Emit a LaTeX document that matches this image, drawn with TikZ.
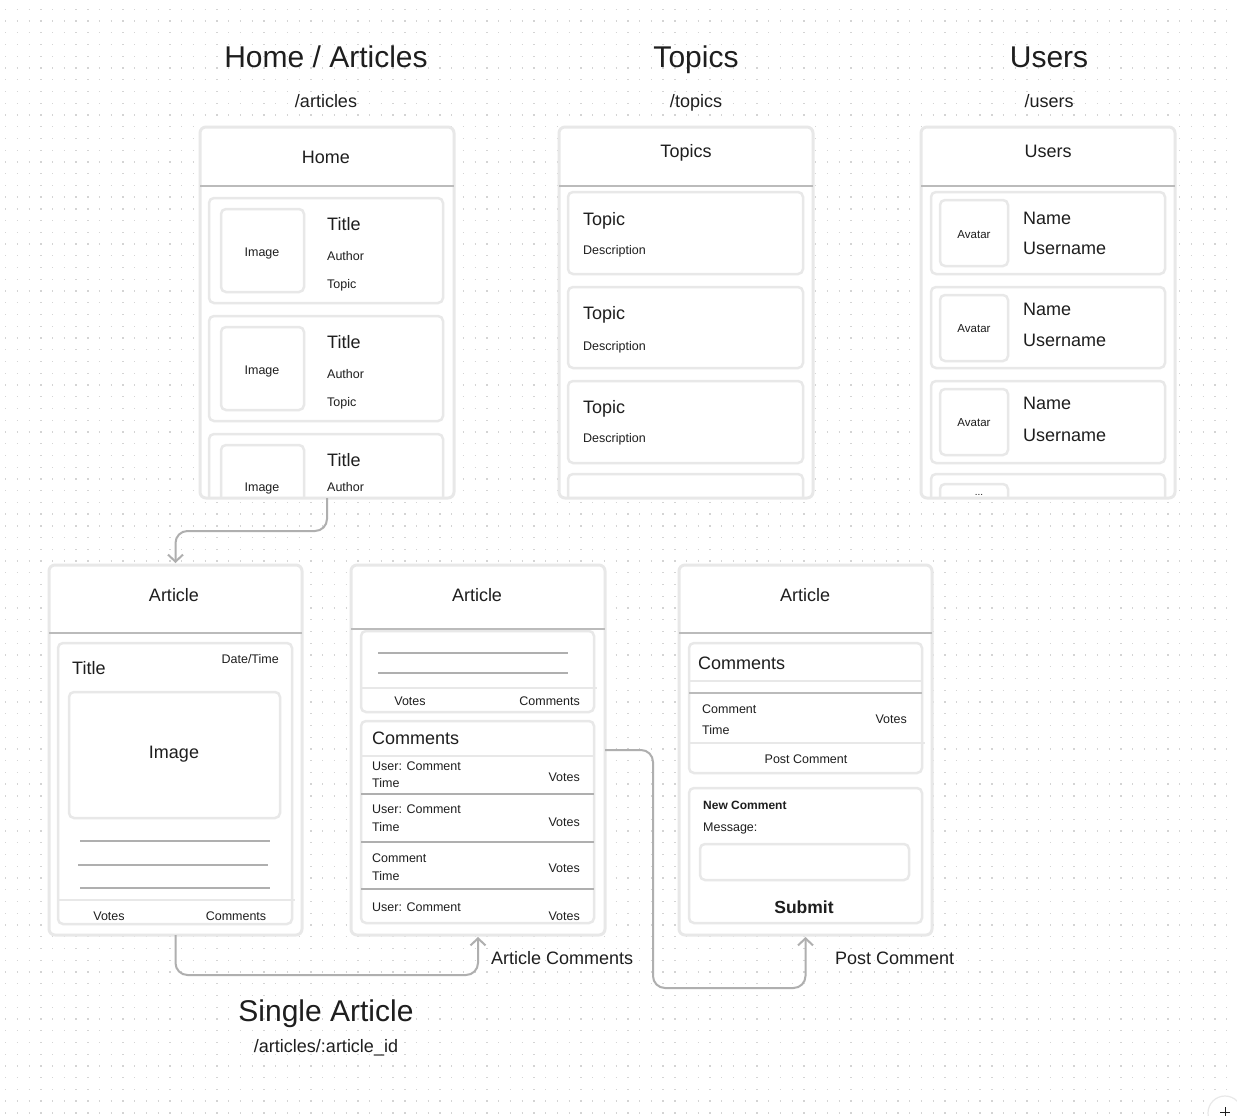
\documentclass[tikz,border=0pt]{standalone}
\usepackage{fontspec}
\setmainfont{Liberation Sans}
\usetikzlibrary{arrows.meta}

\definecolor{ink}{HTML}{1E1E1E}
\definecolor{boxgray}{HTML}{E8E8E8}
\definecolor{divider}{HTML}{BBBBBB}
\definecolor{stroke}{HTML}{AFAFAF}
\definecolor{dotc}{HTML}{D4D4D4}

% a white panel node (name #2, top-left corner #3,#4, size #5 x #6)
% whose outline is stroked afterwards with the style #1line
\newcommand\panel[6]{%
  \node[#1, minimum width=#5pt, minimum height=#6pt] (#2) at (#3,#4) {};
  \draw[#1line] (#2.north west) rectangle (#2.south east);}

\begin{document}
\begin{tikzpicture}[x=1pt,y=-1pt,
  every node/.style={text=ink},
  big/.style={font=\fontsize{30}{35}\selectfont, yshift=-10.8pt},
  mid/.style={font=\fontsize{18}{22}\selectfont, yshift=-6.5pt},
  sml/.style={font=\fontsize{12.5}{15}\selectfont, yshift=-4.5pt},
  tny/.style={font=\fontsize{11.5}{14}\selectfont, yshift=-4.1pt},
  bsml/.style={font=\fontsize{12}{15}\selectfont\bfseries, yshift=-4.3pt},
  bmid/.style={font=\fontsize{17.5}{21}\selectfont\bfseries, yshift=-6.3pt},
  lbl/.style={inner sep=0pt, anchor=base},
  lft/.style={inner sep=0pt, anchor=base west},
  rgt/.style={inner sep=0pt, anchor=base east},
  frame/.style={fill=white, rounded corners=6pt, anchor=north west,
    inner sep=0pt, outer sep=0pt},
  frameline/.style={draw=boxgray, line width=3pt, rounded corners=6pt},
  card/.style={fill=white, rounded corners=5pt, anchor=north west,
    inner sep=0pt, outer sep=0pt},
  cardline/.style={draw=boxgray, line width=2.5pt, rounded corners=5pt},
  headrule/.style={draw=divider, line width=2pt},
  textrule/.style={draw=stroke, line width=2pt},
  softrule/.style={draw=boxgray, line width=2pt},
  link/.style={draw=stroke, line width=2pt, rounded corners=12pt,
    -{Straight Barb[length=7pt,width=15pt]}},
  dotgrid/.style={draw=dotc, line width=1.3pt, dash pattern=on 1.3pt off 10.44pt},
]
\useasboundingbox (0,0) rectangle (1237,1116);
\clip (0,0) rectangle (1237,1116);
\fill[white] (0,0) rectangle (1237,1116);

% dotted canvas
\foreach \j in {0,...,94}
  \draw[dotgrid] (5.05,{9.3+11.74*\j}) -- (1237,{9.3+11.74*\j});

% ---------- section titles ----------
\node[big, lbl] (hHome) at (326,57) {Home / Articles};
\node[mid, lbl] (pHome) at (326,101) {/articles};
\node[big, lbl] (hTopics) at (696,57) {Topics};
\node[mid, lbl] (pTopics) at (696,101) {/topics};
\node[big, lbl] (hUsers) at (1049,57) {Users};
\node[mid, lbl] (pUsers) at (1049,101) {/users};

% ---------- Home / Articles ----------
\node[frame, minimum width=254pt, minimum height=371pt] (home) at (200,127) {};
\begin{scope}
  \clip (201.5,188) rectangle (452.5,496.5);
  \panel{card}{hc1}{209}{198}{234}{105}
  \panel{card}{hi1}{221}{209}{83}{83}
  \node[sml, lbl] (hi1t) at (262,252) {Image};
  \node[mid, lft] (hc1a) at (327,224) {Title};
  \node[sml, lft] (hc1b) at (327,256) {Author};
  \node[sml, lft] (hc1c) at (327,284) {Topic};

  \panel{card}{hc2}{209}{316}{234}{105}
  \panel{card}{hi2}{221}{327}{83}{83}
  \node[sml, lbl] (hi2t) at (262,370) {Image};
  \node[mid, lft] (hc2a) at (327,342) {Title};
  \node[sml, lft] (hc2b) at (327,374) {Author};
  \node[sml, lft] (hc2c) at (327,402) {Topic};

  \panel{card}{hc3}{209}{434}{234}{105}
  \panel{card}{hi3}{221}{445}{83}{83}
  \node[sml, lbl] (hi3t) at (262,487) {Image};
  \node[mid, lft] (hc3a) at (327,460) {Title};
  \node[sml, lft] (hc3b) at (327,487) {Author};
\end{scope}
\draw[frameline] (home.north west) rectangle (home.south east);
\draw[headrule] (200,186) -- (454,186);
\node[mid, lbl] (homeT) at (326,157) {Home};

% ---------- Topics ----------
\node[frame, minimum width=254pt, minimum height=371pt] (topics) at (559,127) {};
\begin{scope}
  \clip (560.5,188) rectangle (811.5,496.5);
  \panel{card}{tc1}{568}{192}{235}{82}
  \node[mid, lft] (tc1a) at (583,219) {Topic};
  \node[sml, lft] (tc1b) at (583,250) {Description};
  \panel{card}{tc2}{568}{287}{235}{81}
  \node[mid, lft] (tc2a) at (583,313) {Topic};
  \node[sml, lft] (tc2b) at (583,346) {Description};
  \panel{card}{tc3}{568}{381}{235}{82}
  \node[mid, lft] (tc3a) at (583,407) {Topic};
  \node[sml, lft] (tc3b) at (583,438) {Description};
  \panel{card}{tc4}{568}{474}{235}{80}
\end{scope}
\draw[frameline] (topics.north west) rectangle (topics.south east);
\draw[headrule] (559,186) -- (813,186);
\node[mid, lbl] (topicsT) at (686,151) {Topics};

% ---------- Users ----------
\node[frame, minimum width=254pt, minimum height=371pt] (users) at (921,127) {};
\begin{scope}
  \clip (922.5,188) rectangle (1173.5,496.5);
  \panel{card}{uc1}{931}{192}{234}{82}
  \panel{card}{ua1}{940}{200}{68}{66}
  \node[tny, lbl] (ua1t) at (974,234) {Avatar};
  \node[mid, lft] (uc1a) at (1023,218) {Name};
  \node[mid, lft] (uc1b) at (1023,248) {Username};

  \panel{card}{uc2}{931}{287}{234}{81}
  \panel{card}{ua2}{940}{295}{68}{66}
  \node[tny, lbl] (ua2t) at (974,328) {Avatar};
  \node[mid, lft] (uc2a) at (1023,309) {Name};
  \node[mid, lft] (uc2b) at (1023,340) {Username};

  \panel{card}{uc3}{931}{381}{234}{82}
  \panel{card}{ua3}{940}{389}{68}{66}
  \node[tny, lbl] (ua3t) at (974,422) {Avatar};
  \node[mid, lft] (uc3a) at (1023,403) {Name};
  \node[mid, lft] (uc3b) at (1023,435) {Username};

  \panel{card}{uc4}{931}{474}{234}{80}
  \panel{card}{ua4}{940}{484}{68}{66}
  \node[font=\fontsize{10}{12}\selectfont, lbl] (ua4t) at (979,495.5) {...};
\end{scope}
\draw[frameline] (users.north west) rectangle (users.south east);
\draw[headrule] (921,186) -- (1175,186);
\node[mid, lbl] (usersT) at (1048,151) {Users};

% ---------- Single article: content ----------
\panel{frame}{artA}{49}{565}{253}{370}
\draw[headrule] (49,633) -- (302,633);
\node[mid, lbl] (artAT) at (174,595) {Article};
\panel{card}{ac}{58}{643}{234}{281}
\node[mid, lft] (acT) at (72,668) {Title};
\node[sml, rgt] (acD) at (279,659) {Date/Time};
\panel{card}{aimg}{69}{692}{211}{126}
\node[mid, lbl] (aimgT) at (174,752) {Image};
\draw[textrule] (80,841) -- (270,841);
\draw[textrule] (78,865) -- (268,865);
\draw[textrule] (80,888) -- (270,888);
\draw[softrule] (58,900) -- (295,900);
\node[sml, lbl] (acV) at (109,916) {Votes};
\node[sml, lbl] (acC) at (236,916) {Comments};

% ---------- Single article: comments ----------
\panel{frame}{artB}{351}{565}{254}{370}
\panel{card}{bc1}{361}{631}{233}{81}
\draw[headrule] (351,629) -- (605,629);
\node[mid, lbl] (artBT) at (477,595) {Article};
\draw[textrule] (378,653) -- (568,653);
\draw[textrule] (378,673) -- (568,673);
\draw[softrule] (361,688) -- (597,688);
\node[sml, lbl] (bc1V) at (410,701) {Votes};
\node[sml, rgt] (bc1C) at (580,701) {Comments};

\panel{card}{bc2}{361}{721}{233}{202}
\node[mid, lft] (bc2T) at (372,738) {Comments};
\draw[softrule] (361,756) -- (594,756);
\draw[textrule] (361,794) -- (594,794);
\draw[textrule] (361,842) -- (594,842);
\draw[textrule] (361,889) -- (594,889);
\node[sml, lft] (r1a) at (372,766) {User: Comment};
\node[sml, lft] (r1b) at (372,783) {Time};
\node[sml, rgt] (r1c) at (580,777) {Votes};
\node[sml, lft] (r2a) at (372,809) {User: Comment};
\node[sml, lft] (r2b) at (372,827) {Time};
\node[sml, rgt] (r2c) at (580,822) {Votes};
\node[sml, lft] (r3a) at (372,858) {Comment};
\node[sml, lft] (r3b) at (372,876) {Time};
\node[sml, rgt] (r3c) at (580,868) {Votes};
\node[sml, lft] (r4a) at (372,907) {User: Comment};
\node[sml, rgt] (r4c) at (580,916) {Votes};

% ---------- Single article: post comment ----------
\panel{frame}{artC}{679}{565}{253}{370}
\draw[headrule] (679,633) -- (932,633);
\node[mid, lbl] (artCT) at (805,595) {Article};
\panel{card}{cc1}{689}{643}{233}{130}
\node[mid, lft] (cc1T) at (698,663) {Comments};
\draw[softrule] (689,681) -- (922,681);
\draw[headrule] (689,693) -- (922,693);
\node[sml, lft] (cc1a) at (702,709) {Comment};
\node[sml, lft] (cc1b) at (702,730) {Time};
\node[sml, rgt] (cc1c) at (907,719) {Votes};
\draw[softrule] (689,743) -- (925,743);
\node[sml, lbl] (cc1p) at (806,759) {Post Comment};

\panel{card}{cc2}{689}{788}{233}{135}
\node[bsml, lft] (cc2T) at (703,805) {New Comment};
\node[sml, lft] (cc2m) at (703,827) {Message:};
\panel{card}{cin}{700}{844}{209}{36}
\node[bmid, lbl] (cc2s) at (804,907) {Submit};

% ---------- captions ----------
\node[mid, lft] (capAC) at (491,958) {Article Comments};
\node[mid, lft] (capPC) at (835,958) {Post Comment};
\node[big, lbl] (hSingle) at (326,1011) {Single Article};
\node[mid, lbl] (pSingle) at (326,1046) {/articles/:article\_id};

% ---------- navigation links ----------
\coordinate (k1) at (326,531);
\coordinate (k2) at (0,975);
\coordinate (k3) at (653,988);
\draw[link] (home.south) -- (home.south |- k1) -| ([yshift=2pt]artA.north);
\draw[link] (artA.south) -- (artA.south |- k2) -| ([yshift=-2pt]artB.south);
\draw[link] (artB.east |- 0,750) -| (k3) -| ([yshift=-2pt]artC.south);

% zoom control
\draw[draw=boxgray, line width=1.2pt, fill=white] (1225,1113) circle (17pt);
\draw[ink, line width=1pt] (1220,1112) -- (1230,1112) (1225,1107) -- (1225,1117);
\end{tikzpicture}
\end{document}
